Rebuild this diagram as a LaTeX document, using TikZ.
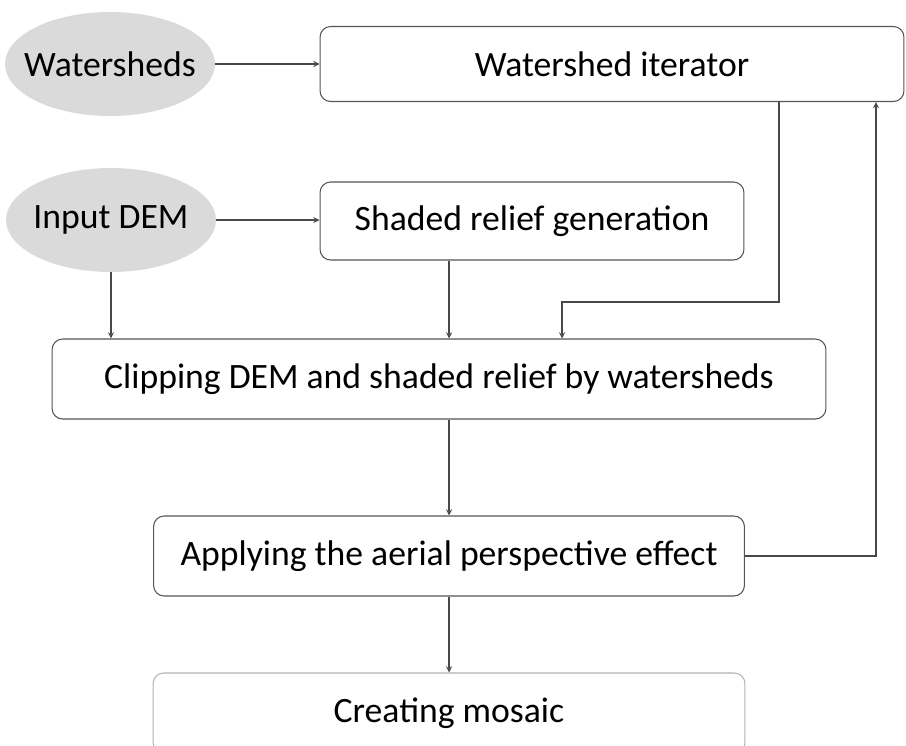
\documentclass[tikz,border=0pt]{standalone}
\usepackage{fontspec}
\setmainfont{Carlito}
\usetikzlibrary{shapes.geometric}
\definecolor{edgegray}{HTML}{555555}
\definecolor{inputgray}{HTML}{DADADA}
\begin{document}
\begin{tikzpicture}[x=0.02cm,y=-0.02cm,
	font=\fontsize{20.3}{24}\selectfont,
	box/.style={draw=edgegray,rounded corners=6pt,line width=0.6pt,inner sep=0pt},
	input/.style={ellipse,fill=inputgray,inner xsep=-0.3cm,inner ysep=0pt,minimum width=4.2cm,minimum height=2.08cm},
	arr/.style={draw=edgegray!85!black,line width=0.6pt,->,>=stealth}]
	\clip (0,0) rectangle (906,745);
	% les entrees
	\node[input] (ws) at (110,64) {Watersheds};
	\node[input] (dem) at (111,220) {Input DEM};
	% les etapes
	\node[box,minimum width=11.68cm,minimum height=1.5cm] (iter) at (612,64) {Watershed iterator};
	\node[box,minimum width=8.48cm,minimum height=1.56cm] (shade) at (532,221) {Shaded relief generation};
	\node[box,minimum width=15.48cm,minimum height=1.6cm] (clip) at (439,379) {Clipping DEM and shaded relief by watersheds};
	\node[box,minimum width=11.82cm,minimum height=1.6cm] (apply) at (449,556) {Applying the aerial perspective effect};
	\node[box,draw=edgegray!45,minimum width=11.84cm,minimum height=1.6cm] (mosaic) at (449,713) {Creating mosaic};
	\coordinate (bend) at (779,302);
	\coordinate (drop) at (562,302);
	\coordinate (loop) at (876,556);
	% les fleches
	\draw[arr] (ws.east) -- (iter.west);
	\draw[arr] (dem.east) -- (dem.east -| shade.west);
	\draw[arr] (dem.south) -- (dem.south |- clip.north);
	\draw[arr] (shade.south -| apply.north) -- (clip.north -| apply.north);
	\draw[arr] (iter.south -| bend) -- (bend) -- (drop) -- (drop |- clip.north);
	\draw[arr] (clip.south -| apply.north) -- (apply.north);
	\draw[arr] (apply.south) -- (mosaic.north);
	\draw[arr] (apply.east) -- (loop) -- (loop |- iter.south);
\end{tikzpicture}
\end{document}
